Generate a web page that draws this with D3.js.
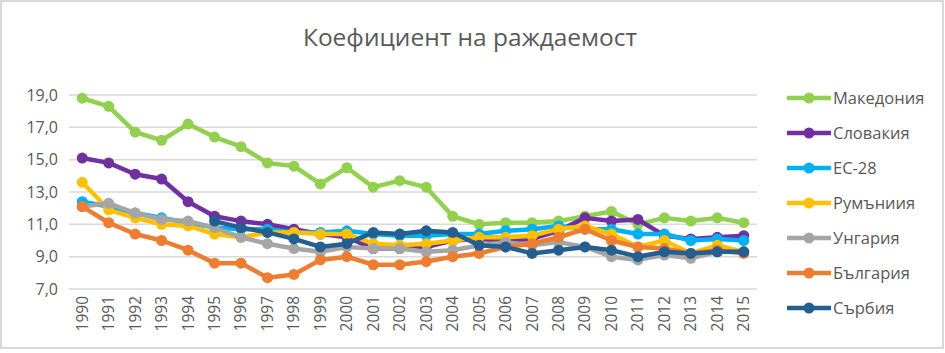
<!DOCTYPE html>
<html>
<head>
<meta charset="utf-8">
<script src="https://cdn.jsdelivr.net/npm/d3@7"></script>
<style>
  body { margin: 0; background: #fff; }
  text { font-family: "Open Sans", "Liberation Sans", sans-serif; fill: #595959; }
</style>
</head>
<body>
<div id="container"></div>
<script>
const years = ["1990","1991","1992","1993","1994","1995","1996","1997","1998","1999","2000","2001","2002","2003","2004","2005","2006","2007","2008","2009","2010","2011","2012","2013","2014","2015"];
const yTicks = [7, 9, 11, 13, 15, 17, 19];

const macedonia = [18.8,18.3,16.7,16.2,17.2,16.4,15.8,14.8,14.6,13.5,14.5,13.3,13.7,13.3,11.5,11.0,11.1,11.1,11.2,11.5,11.8,11.0,11.4,11.2,11.4,11.1];
const slovakia  = [15.1,14.8,14.1,13.8,12.4,11.5,11.2,11.0,10.7,10.4,10.2,9.5,9.5,9.6,10.0,10.1,10.0,10.1,10.6,11.4,11.2,11.3,10.3,10.1,10.2,10.3];
const eu28      = [12.4,12.1,11.7,11.4,11.1,10.8,10.7,10.7,10.5,10.5,10.6,10.4,10.3,10.3,10.4,10.4,10.6,10.7,10.9,10.7,10.7,10.4,10.4,10.0,10.1,10.0];
const romania   = [13.6,11.9,11.4,11.0,10.9,10.4,10.2,10.5,10.5,10.4,10.4,9.8,9.7,9.8,10.0,10.2,10.2,10.3,10.7,10.9,10.4,9.6,10.0,9.2,9.7,9.3];
const hungary   = [12.1,12.3,11.7,11.3,11.2,10.8,10.2,9.8,9.5,9.3,9.6,9.5,9.5,9.3,9.4,9.7,9.9,9.7,9.9,9.6,9.0,8.8,9.1,8.9,9.3,9.3];
const bulgaria  = [12.1,11.1,10.4,10.0,9.4,8.6,8.6,7.7,7.9,8.8,9.0,8.5,8.5,8.7,9.0,9.2,9.6,9.8,10.2,10.7,10.0,9.6,9.5,9.2,9.4,9.2];
const serbia    = [null,null,null,null,null,11.2,10.8,10.5,10.1,9.6,9.8,10.5,10.4,10.6,10.5,9.7,9.6,9.2,9.4,9.6,9.4,9.0,9.3,9.2,9.3,9.3];

const seriesNames = ["Македония", "Словакия", "ЕС-28", "Румъниия", "Унгария", "България", "Сърбия"];
const seriesValues = [macedonia, slovakia, eu28, romania, hungary, bulgaria, serbia];
const colors = ["#92D050", "#7030A0", "#00B0F0", "#FFC000", "#A5A5A5", "#ED7D31", "#255E91"];

const w = 945;
const h = 353;
const plotLeft = 69, plotRight = 757, plotTop = 95, plotBottom = 289;

const svg = d3.select("#container")
  .append("svg")
  .attr("width", w)
  .attr("height", h);

// chart frame
svg.append("rect")
  .attr("x", 1).attr("y", 1)
  .attr("width", w - 3).attr("height", h - 6)
  .attr("fill", "#fff")
  .attr("stroke", "#D9D9D9")
  .attr("stroke-width", 2);

svg.append("text")
  .attr("x", 470)
  .attr("y", 46)
  .attr("text-anchor", "middle")
  .style("font-size", "24.5px")
  .text("Коефициент на раждаемост");

const xScale = d3.scaleBand()
  .domain(years)
  .range([plotLeft, plotRight]);

const yScale = d3.scaleLinear()
  .domain([7, 19])
  .range([plotBottom, plotTop]);

// gridlines
svg.append("g")
  .selectAll("line")
  .data(yTicks)
  .enter()
  .append("line")
  .attr("x1", plotLeft)
  .attr("x2", plotRight)
  .attr("y1", (d) => yScale(d))
  .attr("y2", (d) => yScale(d))
  .attr("stroke", "#D9D9D9")
  .attr("stroke-width", 1.5);

const yAxis = d3.axisLeft(yScale)
  .tickValues(yTicks)
  .tickSize(0)
  .tickPadding(11)
  .tickFormat((d) => d3.format(".1f")(d).replace(".", ","));

svg.append("g")
  .attr("transform", "translate(" + plotLeft + ",0)")
  .call(yAxis)
  .call((g) => g.select(".domain").remove())
  .selectAll("text")
  .style("font-size", "16px")
  .style("fill", "#595959");

const xAxis = d3.axisBottom(xScale).tickSize(0);

svg.append("g")
  .attr("transform", "translate(0," + plotBottom + ")")
  .call(xAxis)
  .call((g) => g.select(".domain").remove())
  .selectAll("text")
  .style("font-size", "15.5px")
  .style("fill", "#595959")
  .attr("text-anchor", "end")
  .attr("transform", "rotate(-90)")
  .attr("x", -7)
  .attr("y", 0)
  .attr("dy", "0.35em");

const line = d3.line()
  .defined((d) => d != null)
  .x((d, i) => xScale(years[i]) + xScale.bandwidth() / 2)
  .y((d) => yScale(d));

seriesValues.forEach((vals, k) => {
  const g = svg.append("g");
  g.append("path")
    .datum(vals)
    .attr("fill", "none")
    .attr("stroke", colors[k])
    .attr("stroke-width", 4.5)
    .attr("stroke-linejoin", "round")
    .attr("d", line);
  g.selectAll("circle")
    .data(vals.map((v, i) => ({ v: v, year: years[i] })).filter((d) => d.v != null))
    .enter()
    .append("circle")
    .attr("cx", (d) => xScale(d.year) + xScale.bandwidth() / 2)
    .attr("cy", (d) => yScale(d.v))
    .attr("r", 5.5)
    .attr("fill", colors[k]);
});

// legend
const legend = svg.append("g");
seriesNames.forEach((name, k) => {
  const y = 98 + k * 35;
  legend.append("line")
    .attr("x1", 787).attr("x2", 831)
    .attr("y1", y).attr("y2", y)
    .attr("stroke", colors[k])
    .attr("stroke-width", 4.5);
  legend.append("circle")
    .attr("cx", 809).attr("cy", y)
    .attr("r", 5.5)
    .attr("fill", colors[k]);
  legend.append("text")
    .attr("x", 833)
    .attr("y", y)
    .attr("dy", "0.35em")
    .style("font-size", "16.5px")
    .text(name);
});
</script>
</body>
</html>
